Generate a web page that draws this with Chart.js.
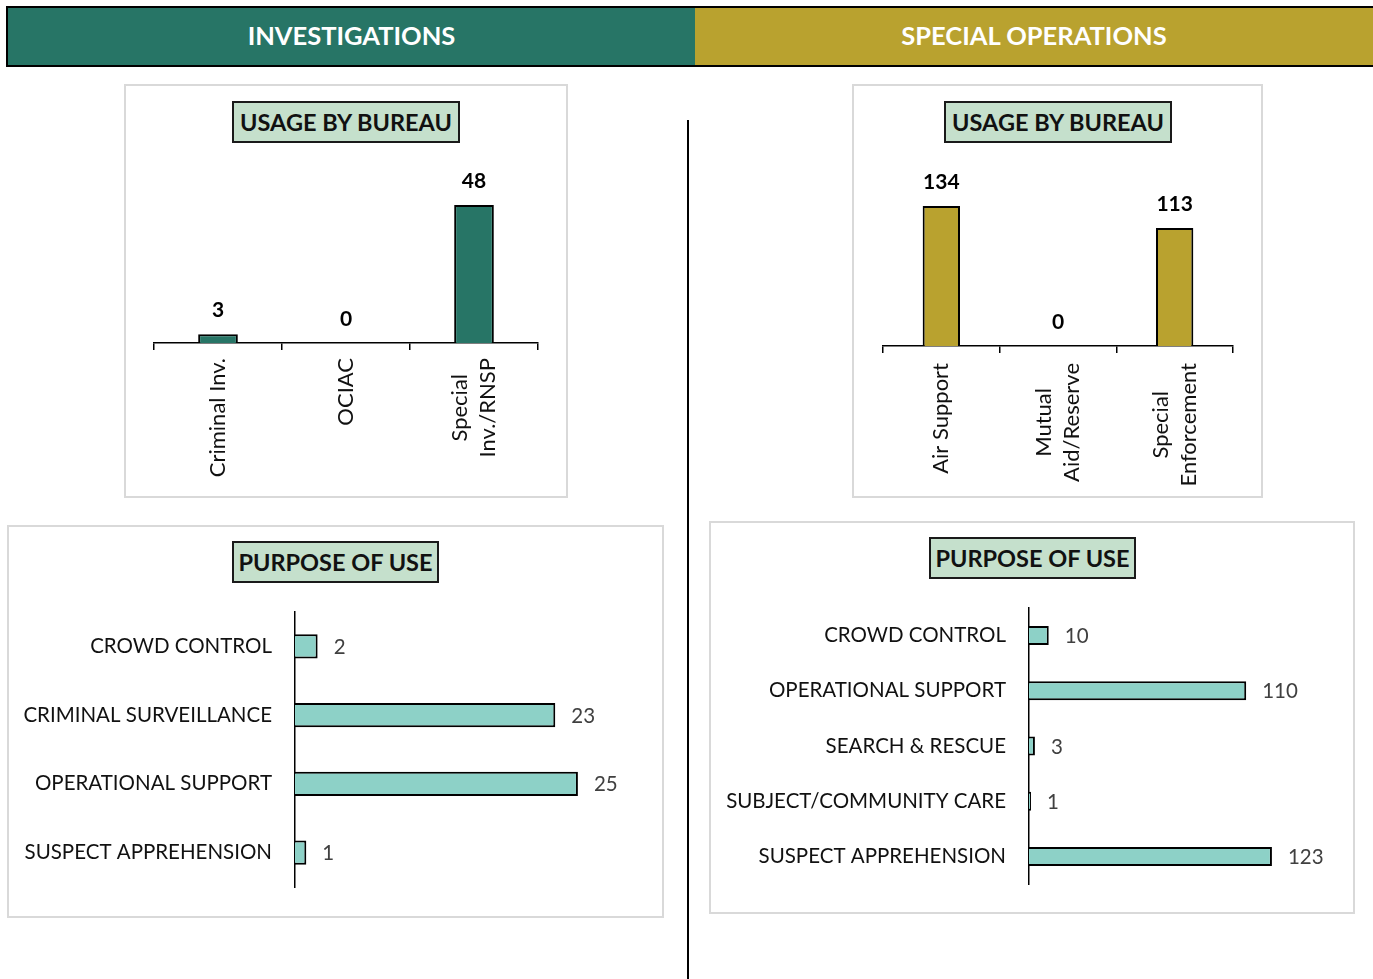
<!DOCTYPE html>
<html>
<head>
<meta charset="utf-8">
<script src="https://cdn.jsdelivr.net/npm/chart.js@4.4.1/dist/chart.umd.min.js"></script>
<style>
  body{margin:0;width:1373px;height:979px;background:#fff;position:relative;overflow:hidden;font-family:Lato,sans-serif}
  .hdr{position:absolute;top:6px;height:61px;box-sizing:border-box;border-top:2px solid #000;border-bottom:2px solid #000;
       padding-bottom:3px;color:#fff;font-weight:bold;font-size:25.5px;display:flex;align-items:center;justify-content:center}
  .box{position:absolute;box-sizing:border-box;border:2px solid #d9d9d9}
  .ttl{position:absolute;box-sizing:border-box;border:2px solid #1a1a1a;background:#c5e0cc;color:#111;
       padding-bottom:1px;font-weight:bold;font-size:23.5px;display:flex;align-items:center;justify-content:center}
  canvas{position:absolute}
  .divider{position:absolute;left:687px;top:120px;width:2px;height:859px;background:#000}
</style>
</head>
<body>
<div class="hdr" style="left:6px;width:689px;background:#277566;border-left:2px solid #000">INVESTIGATIONS</div>
<div class="hdr" style="left:695px;width:678px;background:#b9a22f">SPECIAL OPERATIONS</div>
<div class="divider"></div>

<div class="box" style="left:124px;top:84px;width:444px;height:414px"></div>
<div class="box" style="left:852px;top:84px;width:411px;height:414px"></div>
<div class="box" style="left:7px;top:525px;width:657px;height:393px"></div>
<div class="box" style="left:709px;top:521px;width:646px;height:393px"></div>

<canvas id="invBureau" width="442" height="354" style="left:125px;top:143px"></canvas>
<canvas id="specBureau" width="409" height="354" style="left:853px;top:143px"></canvas>
<canvas id="invPurpose" width="655" height="327" style="left:8px;top:590px"></canvas>
<canvas id="specPurpose" width="644" height="327" style="left:710px;top:586px"></canvas>

<div class="ttl" style="left:232px;top:101px;width:228px;height:42px">USAGE BY BUREAU</div>
<div class="ttl" style="left:944px;top:101px;width:228px;height:42px">USAGE BY BUREAU</div>
<div class="ttl" style="left:232px;top:541px;width:207px;height:42px">PURPOSE OF USE</div>
<div class="ttl" style="left:929px;top:537px;width:207px;height:42px">PURPOSE OF USE</div>

<script>
const invBureauLabels = [["Criminal Inv."], ["OCIAC"], ["Special", "Inv./RNSP"]];
const invBureauValues = [3, 0, 48];
const specBureauLabels = [["Air Support"], ["Mutual", "Aid/Reserve"], ["Special", "Enforcement"]];
const specBureauValues = [134, 0, 113];
const invPurposeLabels = ["CROWD CONTROL", "CRIMINAL SURVEILLANCE", "OPERATIONAL SUPPORT", "SUSPECT APPREHENSION"];
const invPurposeValues = [2, 23, 25, 1];
const specPurposeLabels = ["CROWD CONTROL", "OPERATIONAL SUPPORT", "SEARCH & RESCUE", "SUBJECT/COMMUNITY CARE", "SUSPECT APPREHENSION"];
const specPurposeValues = [10, 110, 3, 1, 123];

const FONT = "Lato, sans-serif";

// value labels at the end of each bar
const valueLabels = {
  id: 'valueLabels',
  afterDatasetsDraw(chart, args, opts){
    const ctx = chart.ctx;
    const meta = chart.getDatasetMeta(0);
    const data = chart.data.datasets[0].data;
    ctx.save();
    ctx.font = opts.font;
    ctx.fillStyle = opts.color;
    meta.data.forEach((bar, i)=>{
      if(chart.options.indexAxis === 'y'){
        ctx.textAlign = 'left'; ctx.textBaseline = 'middle';
        ctx.fillText(data[i], bar.x + opts.gap, bar.y + 1);
      } else {
        ctx.textAlign = 'center'; ctx.textBaseline = 'alphabetic';
        ctx.fillText(data[i], bar.x, bar.y - opts.gap);
      }
    });
    ctx.restore();
  }
};

// rotated category labels, lines centred on each other, block ending at the axis
const rotatedTicks = {
  id: 'rotatedTicks',
  afterDraw(chart, args, opts){
    const xs = chart.scales.x, ctx = chart.ctx;
    ctx.save();
    ctx.font = opts.font;
    ctx.fillStyle = opts.color;
    ctx.textAlign = 'center'; ctx.textBaseline = 'middle';
    chart.data.labels.forEach((lines, i)=>{
      const cx = xs.getPixelForTick(i);
      const w = Math.max(...lines.map(l => ctx.measureText(l).width));
      const cy = xs.top + opts.pad + w / 2;
      lines.forEach((line, j)=>{
        const lx = cx + (j - (lines.length - 1) / 2) * opts.lineHeight;
        ctx.save();
        ctx.translate(lx, cy);
        ctx.rotate(-Math.PI / 2);
        ctx.fillText(line, 0, 0);
        ctx.restore();
      });
    });
    ctx.restore();
  }
};

function bureauChart(id, labels, values, color, yMax, pad, axisHeight, barPct, labelPad){
  return new Chart(document.getElementById(id), {
    type: 'bar',
    data: {
      labels: labels,
      datasets: [{data: values, backgroundColor: color, borderColor: '#000', borderWidth: 2,
                   barPercentage: barPct, categoryPercentage: 1}]
    },
    options: {
      responsive: false, animation: false,
      layout: {padding: pad},
      plugins: {
        legend: {display: false}, tooltip: {enabled: false},
        valueLabels: {font: "bold 21px " + FONT, color: '#000', gap: 17},
        rotatedTicks: {font: "22px " + FONT, color: '#111', pad: labelPad, lineHeight: 28}
      },
      scales: {
        x: {
          grid: {display: true, drawOnChartArea: false, drawTicks: true, tickLength: 7, color: '#000', lineWidth: 1.5, offset: true},
          border: {display: true, color: '#000', width: 1.5},
          ticks: {display: false},
          afterFit: s => { s.height = axisHeight; s.paddingLeft = 0; s.paddingRight = 0; }
        },
        y: {display: false, min: 0, max: yMax}
      }
    },
    plugins: [valueLabels, rotatedTicks]
  });
}

function purposeChart(id, labels, values, xMax, pad, axisWidth, barPct){
  return new Chart(document.getElementById(id), {
    type: 'bar',
    data: {
      labels: labels,
      datasets: [{data: values, backgroundColor: '#8dd1c7', borderColor: '#000', borderWidth: 2,
                   barPercentage: barPct, categoryPercentage: 1}]
    },
    options: {
      indexAxis: 'y',
      responsive: false, animation: false,
      layout: {padding: pad},
      plugins: {
        legend: {display: false}, tooltip: {enabled: false},
        valueLabels: {font: "20.5px " + FONT, color: '#404040', gap: 16}
      },
      scales: {
        x: {display: false, min: 0, max: xMax},
        y: {
          grid: {display: false},
          border: {display: true, color: '#000', width: 1.5},
          ticks: {color: '#111', font: {family: FONT, size: 20.5}, padding: 15},
          afterFit: s => { s.width = axisWidth; s.paddingTop = 0; s.paddingBottom = 0; }
        }
      }
    },
    plugins: [valueLabels]
  });
}

bureauChart('invBureau', invBureauLabels, invBureauValues, '#277566', 62.6,
  {left: 29, right: 29, top: 20, bottom: 0}, 154, 0.31, 15);
bureauChart('specBureau', specBureauLabels, specBureauValues, '#b9a22f', 175.2,
  {left: 30, right: 29, top: 20, bottom: 0}, 151, 0.32, 17);
purposeChart('invPurpose', invPurposeLabels, invPurposeValues, 28.1,
  {left: 0, right: 50, top: 22, bottom: 30}, 287, 0.35);
purposeChart('specPurpose', specPurposeLabels, specPurposeValues, 134.2,
  {left: 0, right: 60, top: 22, bottom: 29}, 319, 0.345);
</script>
</body>
</html>
